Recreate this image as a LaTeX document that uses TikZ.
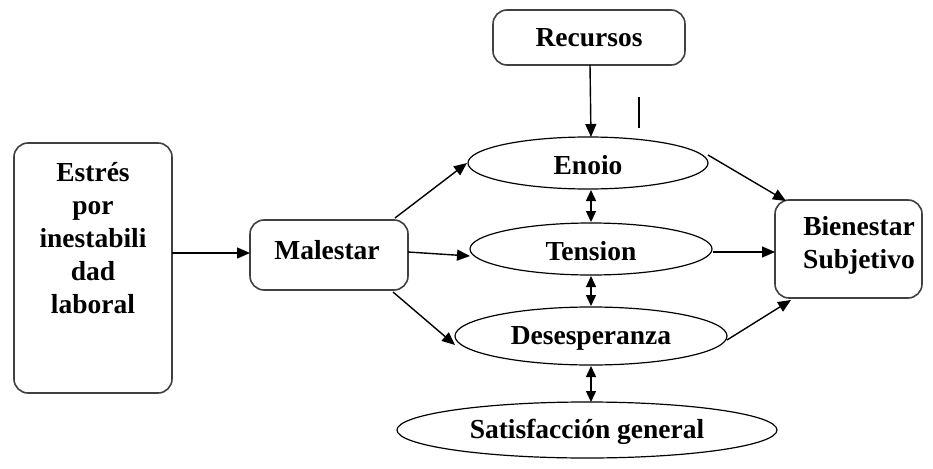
\documentclass[tikz,border=0pt]{standalone}
\usepackage{fontspec}
\setmainfont{Liberation Serif}
\usetikzlibrary{arrows.meta}
\begin{document}
\begin{tikzpicture}[x=1pt,y=-1pt,
  lbl/.style={font=\fontsize{27.5}{33}\selectfont\bfseries, align=center},
  rbox/.style={draw=black!75, line width=1.6pt, rounded corners=14pt, inner sep=0pt},
  arr/.style={line width=1.4pt, -{Triangle[length=13pt,width=11pt]}},
  darr/.style={line width=1.4pt, {Triangle[length=11pt,width=10pt]}-{Triangle[length=11pt,width=10pt]}}]
\useasboundingbox (0,0) rectangle (933,468);
% boxes
\draw[rbox] (14,143) rectangle (172,393);
\node[lbl] (estres) at (93,238) {Estrés\\por\\inestabili\\dad\\laboral};
\coordinate (estresE) at (172,253);
\draw[rbox] (493,10) rectangle (685,65);
\node[lbl] (recursos) at (589,38) {Recursos};
\coordinate (recS) at (590,65);
\draw[rbox] (250,220) rectangle (408,290);
\node[lbl] (malestar) at (327,250) {Malestar};
\draw[rbox] (775,200) rectangle (922,298);
\node[lbl] (bien) at (859,245) {Bienestar\\Subjetivo};
% ellipses
\draw[line width=1.2pt] (588,163) ellipse [x radius=120, y radius=26];
\node[lbl] (enoio) at (588,165) {Enoio};
\draw[line width=1.2pt] (591,249) ellipse [x radius=121, y radius=26];
\node[lbl] (tension) at (591,251) {Tension};
\draw[line width=1.2pt] (591,336) ellipse [x radius=136, y radius=29];
\node[lbl] (deses) at (591,338) {Desesperanza};
\draw[line width=1.2pt] (587,430) ellipse [x radius=190, y radius=28];
\node[lbl] (satis) at (587,432) {Satisfacción general};
% connector endpoints
\coordinate (malE) at (408,252);
\coordinate (malNE) at (395,218);
\coordinate (malSE) at (393,292);
\coordinate (enoW) at (467,163);
\coordinate (enoN) at (591,137);
\coordinate (enoE) at (708,155);
\coordinate (enoS) at (591,190);
\coordinate (tenW) at (470,256);
\coordinate (tenN) at (591,222);
\coordinate (tenE) at (713,252);
\coordinate (tenS) at (591,276);
\coordinate (desW) at (455,345);
\coordinate (desN) at (591,306);
\coordinate (desE) at (727,340);
\coordinate (desS) at (591,366);
\coordinate (satN) at (591,402);
\coordinate (bienNW) at (786,201);
\coordinate (bienW) at (775,252);
\coordinate (bienSW) at (791,300);
\coordinate (malW) at (250,253);
% arrows
\draw[arr] (estresE) -- (malW);
\draw[arr] (malNE) -- (enoW);
\draw[arr] (malE) -- (tenW);
\draw[arr] (malSE) -- (desW);
\draw[arr] (recS) -- (enoN);
\draw[arr] (enoE) -- (bienNW);
\draw[arr] (tenE) -- (bienW);
\draw[arr] (desE) -- (bienSW);
\draw[darr] (enoS) -- (tenN);
\draw[darr] (tenS) -- (desN);
\draw[darr] (desS) -- (satN);
% stray mark
\coordinate (m1) at (639,97);
\coordinate (m2) at (639,128);
\draw[line width=1.2pt] (m1) -- (m2);
\end{tikzpicture}
\end{document}
